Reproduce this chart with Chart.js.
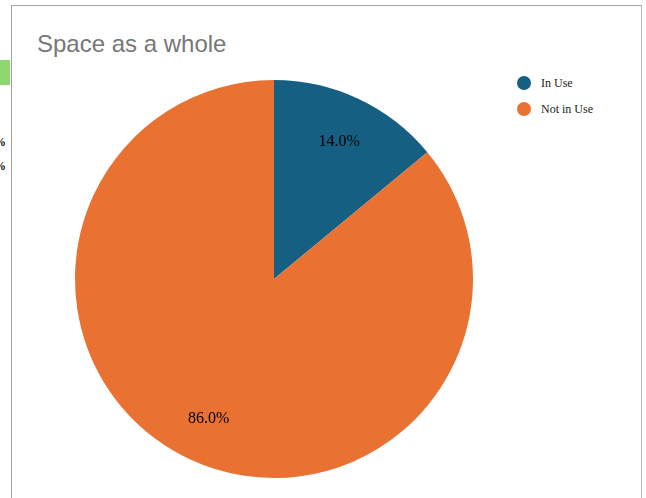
<!DOCTYPE html>
<html>
<head>
<meta charset="utf-8">
<script src="https://cdn.jsdelivr.net/npm/chart.js@4"></script>
<style>
    html, body { margin: 0; padding: 0; background: #fff; overflow: hidden; }
    body { width: 646px; height: 498px; position: relative; }
    #frame {
        position: absolute; left: 11px; top: 5px; width: 629px; height: 520px;
        border-left: 1px solid #a0a0a0; border-top: 1px solid #a8a8a8; border-right: 1px solid #b8b8b8;
    }
    #title {
        position: absolute; left: 37px; top: 30px;
        font-family: "Liberation Sans", Arial, sans-serif; font-size: 24px; color: #777;
        white-space: nowrap;
    }
    #legend { position: absolute; left: 517px; top: 70px; font-family: "Liberation Serif", "Times New Roman", serif; font-size: 12px; color: #222; }
    #legend .item { height: 26px; display: flex; align-items: center; }
    #legend .dot { width: 14px; height: 14px; border-radius: 50%; margin-right: 10px; }
    #green { position: absolute; left: 0; top: 60px; width: 10px; height: 25px; background: #8fd870; }
    .pct { position: absolute; left: -6px; font-family: "Liberation Serif", serif; font-weight: bold; font-size: 12px; color: #111; }
    #myChart { position: absolute; left: 0; top: 0; }
</style>
</head>
<body>
<div id="green"></div>
<div class="pct" style="top:135px">%</div>
<div class="pct" style="top:159px">%</div>
<div id="frame"></div>
<div id="title">Space as a whole</div>
<div id="legend"></div>
<canvas id="myChart" width="646" height="498"></canvas>
<script>
    var labels = ["In Use", "Not in Use"];
    var values = [14.0, 86.0];
    var colors = ["#156082", "#E97132"];

    // legend built from the same arrays
    var legend = document.getElementById("legend");
    for (var i = 0; i < labels.length; i++) {
        var item = document.createElement("div");
        item.className = "item";
        item.innerHTML = '<span class="dot" style="background:' + colors[i] + '"></span>' + labels[i];
        legend.appendChild(item);
    }

    // percentage labels inside each slice
    var sliceLabels = {
        id: "sliceLabels",
        afterDatasetsDraw: function (chart) {
            var ctx = chart.ctx;
            var meta = chart.getDatasetMeta(0);
            ctx.save();
            ctx.font = '16px "Liberation Serif", "Times New Roman", serif';
            ctx.fillStyle = "#000";
            ctx.textAlign = "center";
            ctx.textBaseline = "middle";
            meta.data.forEach(function (arc, idx) {
                var p = arc.getProps(["x", "y", "startAngle", "endAngle", "outerRadius"], true);
                var mid = (p.startAngle + p.endAngle) / 2;
                var r = p.outerRadius * 0.77;
                ctx.fillText(values[idx].toFixed(1) + "%", p.x + Math.cos(mid) * r, p.y + Math.sin(mid) * r + 1);
            });
            ctx.restore();
        }
    };

    var ctx = document.getElementById("myChart").getContext("2d");
    var myChart = new Chart(ctx, {
        type: "pie",
        data: {
            labels: labels,
            datasets: [{
                data: values,
                backgroundColor: colors,
                borderWidth: 0
            }]
        },
        options: {
            responsive: false,
            animation: false,
            layout: {
                padding: {left: 75, top: 80, right: 173, bottom: 20}
            },
            plugins: {
                legend: {display: false},
                title: {display: false},
                tooltip: {enabled: false}
            }
        },
        plugins: [sliceLabels]
    });
</script>
</body>
</html>
